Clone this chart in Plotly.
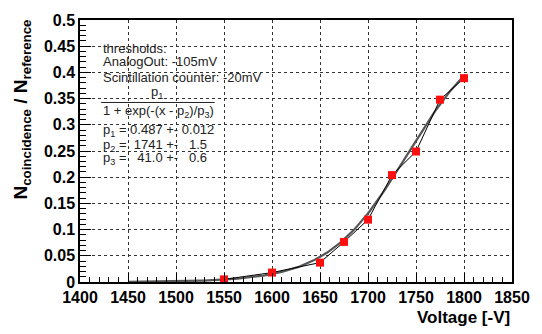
import numpy as np
import plotly.graph_objects as go

# Measured coincidence ratio vs. PMT voltage
voltage = [1550, 1600, 1650, 1675, 1700, 1725, 1750, 1775, 1800]
ratio = [0.005, 0.018, 0.037, 0.0765, 0.119, 0.204, 0.249, 0.348, 0.389]

# Sigmoid fit parameters
p1, p2, p3 = 0.487, 1741.0, 41.0
fit_x = np.linspace(1450, 1800, 200)
fit_y = p1 / (1 + np.exp(-(fit_x - p2) / p3))

x_ticks = [1400, 1450, 1500, 1550, 1600, 1650, 1700, 1750, 1800, 1850]
y_ticks = [0, 0.05, 0.1, 0.15, 0.2, 0.25, 0.3, 0.35, 0.4, 0.45, 0.5]
y_labels = ["0", "0.05", "0.1", "0.15", "0.2", "0.25", "0.3", "0.35", "0.4", "0.45", "0.5"]

FONT = "Arial, Liberation Sans, sans-serif"

fig = go.Figure()
fig.add_trace(go.Scatter(x=fit_x, y=fit_y, mode="lines",
                         line=dict(color="#555555", width=2.2), hoverinfo="skip"))
fig.add_trace(go.Scatter(x=voltage, y=ratio, mode="lines",
                         line=dict(color="black", width=1)))
fig.add_trace(go.Scatter(x=voltage, y=ratio, mode="markers",
                         marker=dict(symbol="square", size=8, color="#ff1010")))

axis_common = dict(
    showline=True, linecolor="black", linewidth=1.5, mirror=True,
    ticks="inside", tickcolor="black", tickwidth=1,
    showgrid=True, gridcolor="#333333", griddash="dot", gridwidth=1,
    zeroline=False,
    tickfont=dict(family=FONT, size=16, color="black", weight="bold"),
)

fig.update_xaxes(range=[1400, 1850], tickvals=x_ticks,
                 ticktext=[f"<b>{v}</b>" for v in x_ticks], ticklen=9,
                 minor=dict(dtick=10, ticks="inside", ticklen=5, tickcolor="black", showgrid=False),
                 **axis_common)
fig.update_yaxes(range=[0, 0.5], tickvals=y_ticks,
                 ticktext=[f"<b>{s}</b>" for s in y_labels],
                 ticklen=11,
                 minor=dict(dtick=0.01, ticks="inside", ticklen=6, tickcolor="black", showgrid=False),
                 **axis_common)

txt = dict(family=FONT, size=13, color="#222222")
X0 = 79.8
W = 433.8
PH = 270


def px(xp):
    return (xp - X0) / W


def py(yp):
    return (282 - yp) / PH


lines = [
    ("thresholds:", 41),
    ("AnalogOut: -105mV", 55),
    ("Scintillation counter: -20mV", 71),
    ("p<sub>1</sub> = 0.487 +- 0.012", 126),
    ("p<sub>2</sub> =  1741 +-   1.5", 141),
    ("p<sub>3</sub> =   41.0 +-   0.6", 155),
]
for s, ypx in lines:
    fig.add_annotation(text=s, xref="paper", yref="paper", x=px(101), y=py(ypx),
                       xanchor="left", yanchor="middle", showarrow=False, font=txt)
# Fit formula as a fraction
fig.add_annotation(text="p<sub>1</sub>", xref="paper", yref="paper",
                   x=px(157), y=py(87), xanchor="center", yanchor="middle",
                   showarrow=False, font=txt)
fig.add_annotation(text="1 + exp(-(x - p<sub>2</sub>)/p<sub>3</sub>)", xref="paper", yref="paper",
                   x=px(101), y=py(106), xanchor="left", yanchor="middle",
                   showarrow=False, font=txt)
fig.add_shape(type="line", xref="paper", yref="paper",
              x0=px(101), x1=px(215), y0=py(97), y1=py(97),
              line=dict(color="#222222", width=1))

# Axis titles
fig.add_annotation(text="<b>N<sub>coincidence</sub> / N<sub>reference</sub></b>",
                   xref="paper", yref="paper", x=px(8), y=py(9),
                   xanchor="left", yanchor="top", textangle=-90, showarrow=False,
                   font=dict(family=FONT, size=19, color="black"))
fig.add_annotation(text="<b>Voltage [-V]</b>", xref="paper", yref="paper",
                   x=px(514), y=py(319), xanchor="right", yanchor="middle",
                   showarrow=False, font=dict(family=FONT, size=17, color="black"))

fig.update_layout(width=542, height=334,
                  margin=dict(l=79.8, r=28.4, t=12, b=52),
                  paper_bgcolor="white", plot_bgcolor="white",
                  showlegend=False)

fig.write_html("out.html")
